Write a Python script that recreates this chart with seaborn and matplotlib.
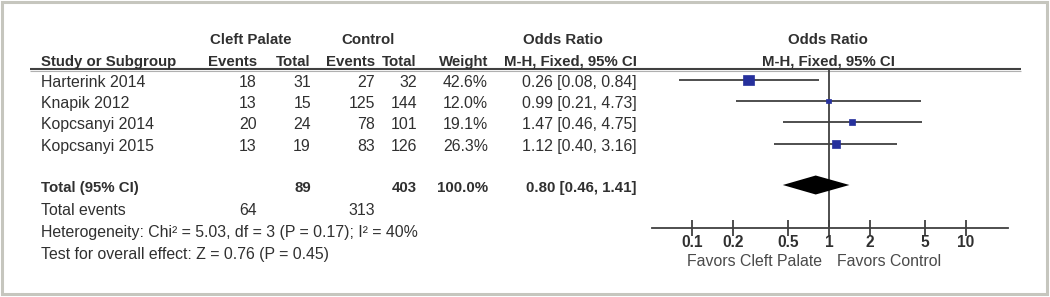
import numpy as np
import pandas as pd
import matplotlib
matplotlib.use("Agg")
import matplotlib.pyplot as plt
import seaborn as sns
from matplotlib.patches import Rectangle
from matplotlib.ticker import NullLocator

# ---------------- data ----------------
studies = ["Harterink 2014", "Knapik 2012", "Kopcsanyi 2014", "Kopcsanyi 2015"]
cp_events = [18, 13, 20, 13]
cp_total = [31, 15, 24, 19]
ctl_events = [27, 125, 78, 83]
ctl_total = [32, 144, 101, 126]
weights = [42.6, 12.0, 19.1, 26.3]
odds_ratio = [0.26, 0.99, 1.47, 1.12]
ci_low = [0.08, 0.21, 0.46, 0.40]
ci_high = [0.84, 4.73, 4.75, 3.16]

total_cp_events = 64
total_cp = 89
total_ctl_events = 313
total_ctl = 403
total_weight = 100.0
total_or = 0.80
total_low = 0.46
total_high = 1.41

heterogeneity = "Heterogeneity: Chi\u00b2 = 5.03, df = 3 (P = 0.17); I\u00b2 = 40%"
overall_effect = "Test for overall effect: Z = 0.76 (P = 0.45)"
tick_values = [0.1, 0.2, 0.5, 1, 2, 5, 10]
tick_labels = ["0.1", "0.2", "0.5", "1", "2", "5", "10"]
favors_left = "Favors Cleft Palate"
favors_right = "Favors Control"

df = pd.DataFrame({"study": studies, "or": odds_ratio, "lo": ci_low,
                   "hi": ci_high, "w": weights})

# ---------------- style ----------------
sns.set_theme(style="white")
plt.rcParams["font.family"] = ["Liberation Sans", "DejaVu Sans"]
TXT = "#303030"
LINE = "#404040"
BLUE = "#26309c"
FS = 11.4
FSB = 10.8

W, H = 1050, 297
fig = plt.figure(figsize=(W / 100, H / 100), dpi=100)
bg = fig.add_axes([0, 0, 1, 1])
bg.set_xlim(0, W)
bg.set_ylim(H, 0)
bg.axis("off")

# frame
bg.add_patch(Rectangle((2, 2), 1045, 292, fill=False, ec="#c6c6be", lw=2.2, clip_on=False))

def t(x, y, s, ha="left", bold=False, color=TXT, **kw):
    bg.text(x, y, s, ha=ha, va="baseline", fontsize=FSB if bold else FS, color=color,
            fontweight="bold" if bold else "normal", **kw)

# headers
t(251, 44.5, "Cleft Palate", ha="center", bold=True)
t(368, 44.5, "Control", ha="center", bold=True)
t(563, 44.5, "Odds Ratio", ha="center", bold=True)
t(41, 66, "Study or Subgroup", bold=True)
t(257, 66, "Events", ha="right", bold=True)
t(311, 66, "Total", ha="right", bold=True)
t(375, 66, "Events", ha="right", bold=True)
t(417, 66, "Total", ha="right", bold=True)
t(488, 66, "Weight", ha="right", bold=True)
t(637, 66, "M-H, Fixed, 95% CI", ha="right", bold=True)
t(828, 43.5, "Odds Ratio", ha="center", bold=True)
t(828, 65, "M-H, Fixed, 95% CI", ha="center", bold=True)

bg.plot([30, 1021], [69.0, 69.0], color=LINE, lw=1.5, solid_capstyle="butt")
bg.plot([30, 1021], [70.6, 70.6], color="#b0b0b0", lw=0.8, solid_capstyle="butt")

# study rows
row_base = [86.7, 108.2, 129.4, 151.0]
for i, yb in enumerate(row_base):
    t(41, yb, studies[i])
    t(257, yb, f"{cp_events[i]}", ha="right")
    t(311, yb, f"{cp_total[i]}", ha="right")
    t(375, yb, f"{ctl_events[i]}", ha="right")
    t(417, yb, f"{ctl_total[i]}", ha="right")
    t(488, yb, f"{weights[i]:.1f}%", ha="right")
    t(637, yb, f"{odds_ratio[i]:.2f} [{ci_low[i]:.2f}, {ci_high[i]:.2f}]", ha="right")

# totals
t(41, 191.7, "Total (95% CI)", bold=True)
t(311, 191.7, f"{total_cp}", ha="right", bold=True)
t(417, 191.7, f"{total_ctl}", ha="right", bold=True)
t(488, 191.7, f"{total_weight:.1f}%", ha="right", bold=True)
t(637, 191.7, f"{total_or:.2f} [{total_low:.2f}, {total_high:.2f}]", ha="right", bold=True)
t(41, 215, "Total events")
t(257, 215, f"{total_cp_events}", ha="right")
t(375, 215, f"{total_ctl_events}", ha="right")
t(41, 237, heterogeneity)
t(41, 258.5, overall_effect)

# ---------------- forest axes ----------------
x_one, decade = 829.0, 137.0
x_left, x_right = 651.7, 1007.7
y_top, y_axis = 69.0, 228.3
ax = fig.add_axes([x_left / W, (H - y_axis) / H, (x_right - x_left) / W, (y_axis - y_top) / H])
ax.patch.set_visible(False)
ax.set_xscale("log")
ax.set_xlim(10 ** ((x_left - x_one) / decade), 10 ** ((x_right - x_one) / decade))
ax.set_ylim(y_axis, y_top)
for s in ["top", "left", "right"]:
    ax.spines[s].set_visible(False)
ax.spines["bottom"].set_color(LINE)
ax.spines["bottom"].set_linewidth(1.3)
ax.set_yticks([])
ax.set_xticks(tick_values)
ax.set_xticklabels(tick_labels)
ax.xaxis.set_minor_locator(NullLocator())
ax.tick_params(axis="x", bottom=True, direction="inout", length=11, width=1.3, color=LINE,
               pad=-0.5, labelsize=11.2, labelcolor=TXT)
for lbl in ax.get_xticklabels():
    lbl.set_fontweight("bold")

marker_y = [80.0, 101.0, 122.0, 144.0]
df["y"] = marker_y
ax.axvline(1, color=LINE, lw=1.3, zorder=1)
ax.hlines(df["y"], df["lo"], df["hi"], color=LINE, lw=1.3, zorder=2)
sns.scatterplot(data=df, x="or", y="y", size="w", sizes=(10, 60), size_norm=(12, 42.6),
                marker="s", color=BLUE, edgecolor=BLUE, linewidth=0.5,
                legend=False, ax=ax, zorder=3)
ax.set_xlabel("")
ax.set_ylabel("")

yc, hh = 185.0, 9.5
ax.fill([total_low, total_or, total_high, total_or], [yc, yc - hh, yc, yc + hh],
        color="black", zorder=3, lw=0)

t(822, 266, favors_left, ha="right", color="#4a4a4a")
t(837, 266, favors_right, color="#4a4a4a")

fig.savefig("out.png", dpi=100, facecolor="white")
